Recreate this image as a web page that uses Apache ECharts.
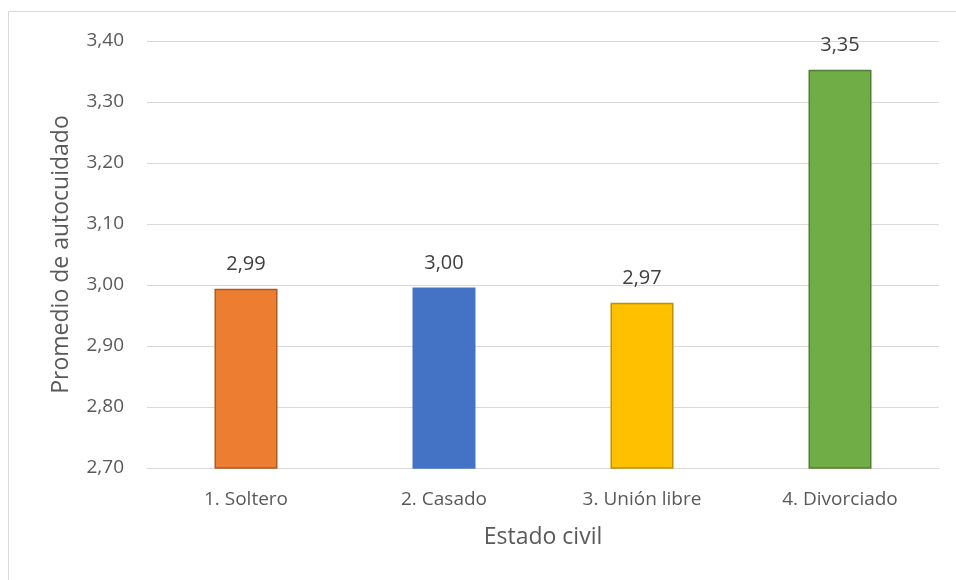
<!DOCTYPE html>
<html>
<head>
<meta charset="utf-8">
<script src="https://cdn.jsdelivr.net/npm/echarts@6/dist/echarts.min.js"></script>
<style>
  html, body { margin: 0; padding: 0; background: #fff; }
  #chart { width: 956px; height: 580px; }
</style>
</head>
<body>
<div id="chart"></div>
<script>
// Average self-care score by marital status
const categories = ['1. Soltero', '2. Casado', '3. Unión libre', '4. Divorciado'];
const values = [2.994, 2.996, 2.971, 3.353];
const fillColors = ['#ED7D31', '#4472C4', '#FFC000', '#70AD47'];
const borderColors = ['#AE5A21', '#4472C4', '#BF9000', '#507E32'];
const yTicks = { min: 2.7, max: 3.4, step: 0.1 };

const fmt = v => v.toFixed(2).replace('.', ',');
const font = '"Open Sans", "Noto Sans", sans-serif';

const chart = echarts.init(document.getElementById('chart'), null, { renderer: 'canvas' });
chart.setOption({
  animation: false,
  graphic: [{
    type: 'rect',
    shape: { x: 8.5, y: 11.5, width: 1000, height: 1000 },
    style: { fill: 'none', stroke: '#D9D9D9', lineWidth: 1 },
    z: -1
  }],
  grid: { left: 147, right: 17, top: 41, bottom: 112, containLabel: false },
  xAxis: {
    type: 'category',
    data: categories,
    name: 'Estado civil',
    nameLocation: 'middle',
    nameGap: 58,
    nameTextStyle: { color: '#595959', fontSize: 23, fontFamily: font },
    axisLine: { lineStyle: { color: '#D9D9D9', width: 1 } },
    axisTick: { show: false },
    axisLabel: { color: '#595959', fontSize: 19, fontFamily: font, margin: 22 }
  },
  yAxis: {
    type: 'value',
    min: yTicks.min,
    max: yTicks.max,
    interval: yTicks.step,
    name: 'Promedio de autocuidado',
    nameLocation: 'middle',
    nameGap: 74,
    nameTextStyle: { color: '#595959', fontSize: 23, fontFamily: font },
    axisLine: { show: false },
    axisTick: { show: false },
    splitLine: { lineStyle: { color: '#D9D9D9', width: 1 } },
    axisLabel: { color: '#595959', fontSize: 19, fontFamily: font, margin: 23, formatter: v => fmt(v) }
  },
  series: [{
    type: 'bar',
    barWidth: 63,
    data: values.map((v, i) => ({
      value: v,
      itemStyle: { color: fillColors[i], borderColor: borderColors[i], borderWidth: 1.5 }
    })),
    label: {
      show: true,
      position: 'top',
      distance: 14,
      color: '#404040',
      fontSize: 20,
      fontFamily: font,
      formatter: p => fmt(p.value)
    }
  }]
});
</script>
</body>
</html>
